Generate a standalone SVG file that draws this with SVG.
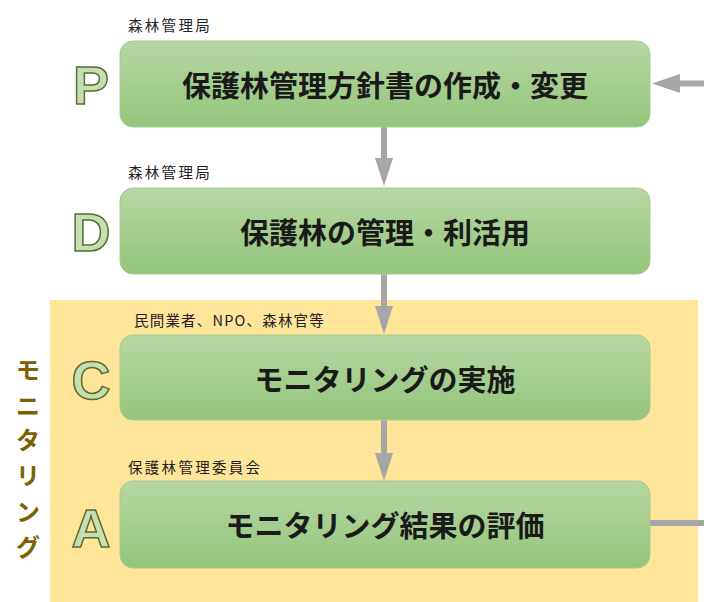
<svg xmlns="http://www.w3.org/2000/svg" width="704" height="602" viewBox="0 0 704 602">
<defs>
<linearGradient id="g" x1="0" y1="0" x2="0" y2="1">
<stop offset="0" stop-color="#b7d7a3"/>
<stop offset="1" stop-color="#93c57a"/>
</linearGradient>
<style>
.box{fill:url(#g);stroke:#a6cc8f;stroke-width:1}
.main{font-family:"Noto Sans CJK JP",sans-serif;font-weight:bold;font-size:29px;fill:#1a1a1a;text-anchor:middle}
.sub{font-family:"Noto Sans CJK JP",sans-serif;font-size:14.5px;letter-spacing:2.3px;fill:#222}
.let{font-family:"Liberation Sans",Arial,sans-serif;font-weight:bold;font-size:54px;fill:#c4e0b2;stroke:#5c6a2e;stroke-width:1.5;text-anchor:middle}
.vt{font-family:"Noto Sans CJK JP",sans-serif;font-weight:bold;font-size:24px;fill:#7f6000;text-anchor:middle}
.ar{stroke:#a6a6a6;stroke-width:6;fill:none}
.hd{fill:#a6a6a6}
</style>
</defs>
<rect x="50" y="300" width="648" height="302" fill="#ffe599"/>
<g id="vlabel">
<text class="vt" x="28" y="379">モ</text>
<text class="vt" x="28" y="415">ニ</text>
<text class="vt" x="28" y="449">タ</text>
<text class="vt" x="28" y="484">リ</text>
<text class="vt" x="28" y="521">ン</text>
<text class="vt" x="28" y="556">グ</text>
</g>
<g id="connectors">
<line class="ar" x1="384" y1="127" x2="384" y2="160"/>
<polygon class="hd" points="375,158 393,158 384,186"/>
<line class="ar" x1="384" y1="274" x2="384" y2="308"/>
<polygon class="hd" points="375,306 393,306 384,334"/>
<line class="ar" x1="384" y1="420" x2="384" y2="455"/>
<polygon class="hd" points="375,453 393,453 384,481"/>
<line class="ar" x1="704" y1="83.5" x2="676" y2="83.5"/>
<polygon class="hd" points="680,74 680,93 652,83.5"/>
<line class="ar" x1="650" y1="523" x2="704" y2="523"/>
</g>
<g id="nodeP">
<text class="sub" x="128" y="31">森林管理局</text>
<rect class="box" x="120" y="41" width="530" height="86" rx="13"/>
<text class="main" x="385" y="97">保護林管理方針書の作成・変更</text>
<text class="let" x="91" y="104">P</text>
</g>
<g id="nodeD">
<text class="sub" x="128" y="178">森林管理局</text>
<rect class="box" x="120" y="188" width="530" height="86" rx="13"/>
<text class="main" x="385" y="244">保護林の管理・利活用</text>
<text class="let" x="91" y="251">D</text>
</g>
<g id="nodeC">
<text class="sub" x="134" y="326" style="letter-spacing:1.2px">民間業者、NPO、森林官等</text>
<rect class="box" x="120" y="335" width="530" height="85" rx="13"/>
<text class="main" x="385" y="391">モニタリングの実施</text>
<text class="let" x="91" y="399">C</text>
</g>
<g id="nodeA">
<text class="sub" x="128" y="473">保護林管理委員会</text>
<rect class="box" x="120" y="481" width="530" height="87" rx="13"/>
<text class="main" x="385" y="537">モニタリング結果の評価</text>
<text class="let" x="91" y="547">A</text>
</g>
</svg>
